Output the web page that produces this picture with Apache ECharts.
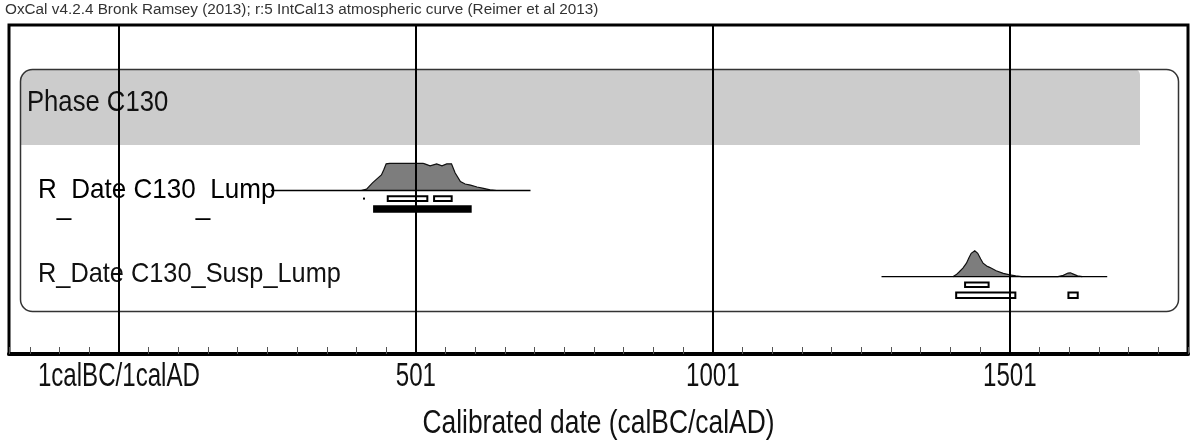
<!DOCTYPE html>
<html><head><meta charset="utf-8">
<script src="https://cdn.jsdelivr.net/npm/echarts@6/dist/echarts.min.js"></script>
<style>html,body{margin:0;padding:0;background:#fff}#c{width:1190px;height:445px}</style>
</head><body><div id="c"></div>
<script>
// x values: years after the 1calBC/1calAD boundary (axis label = value + 1)
const majorTicks = [0, 500, 1000, 1500];
const tickLabels = ['1calBC/1calAD', '501', '1001', '1501'];

// R_Date C130_Lump : relative probability
const lumpYears = [408, 417, 427, 434, 442, 446, 450, 456, 512, 515, 524, 535, 544, 552, 560, 566, 575, 583, 592, 603, 614, 625, 636];
const lumpProb  = [0, 0.05, 0.28, 0.42, 0.57, 0.76, 0.98, 1, 1, 0.98, 0.91, 0.98, 0.91, 0.98, 0.98, 0.65, 0.33, 0.24, 0.2, 0.13, 0.08, 0.02, 0];
const lumpSpan  = [256, 693];
const lump68    = [[411, 413], [451, 521], [529, 562]];
const lump95    = [[428, 594]];

// R_Date C130_Susp_Lump : relative probability
const suspYears = [1404, 1410, 1415, 1421, 1427, 1431, 1435, 1441, 1446, 1451, 1455, 1461, 1466, 1477, 1489, 1500, 1510, 1520, 1581, 1590, 1598, 1602, 1607, 1614, 1622];
const suspProb  = [0, 0.08, 0.19, 0.33, 0.52, 0.72, 0.9, 1, 0.9, 0.68, 0.52, 0.41, 0.36, 0.23, 0.13, 0.07, 0.03, 0, 0, 0.05, 0.14, 0.15, 0.1, 0.03, 0];
const suspSpan  = [1284, 1664];
const susp68    = [[1423, 1466]];
const susp95    = [[1408, 1511], [1597, 1616]];

const titleText = 'OxCal v4.2.4 Bronk Ramsey (2013); r:5 IntCal13 atmospheric curve (Reimer et al 2013)';
const phaseName = 'Phase C130';
const dateNames = ['R_Date C130_Lump', 'R_Date C130_Susp_Lump'];
const axisTitle = 'Calibrated date (calBC/calAD)';

const FONT = '"Liberation Sans", Arial, sans-serif';
const XMIN = -185, XMAX = 1800;

const rows = [
  {years: lumpYears, prob: lumpProb, span: lumpSpan, r68: lump68, r95: lump95, base: 165.5, h: 27.2, fill95: true},
  {years: suspYears, prob: suspProb, span: suspSpan, r68: susp68, r95: susp95, base: 251.7, h: 26, fill95: false}
];

function boxes(api, list, r, top, bottom, filled, children) {
  list.forEach(function (rg) {
    const p = api.coord([rg[0], r.base + top]);
    const q = api.coord([rg[1], r.base + bottom]);
    const w = q[0] - p[0];
    if (w < 3) {
      const cy = (p[1] + q[1]) / 2;
      children.push({type: 'rect', shape: {x: p[0], y: cy - 1, width: 2, height: 2}, style: {fill: '#000'}});
      return;
    }
    children.push({
      type: 'rect',
      shape: {x: p[0] + 1, y: p[1], width: w - 2, height: q[1] - p[1]},
      style: {fill: filled ? '#000' : '#fff', stroke: '#000', lineWidth: 2}
    });
  });
}

function renderItem(params, api) {
  const r = rows[params.dataIndex];
  const children = [];
  const pts = r.years.map(function (y, i) { return api.coord([y, r.base - r.prob[i] * r.h]); });
  const b0 = api.coord([r.years[0], r.base]);
  const b1 = api.coord([r.years[r.years.length - 1], r.base]);
  children.push({type: 'polygon', shape: {points: [b0].concat(pts, [b1])}, style: {fill: '#7d7d7d'}});
  children.push({type: 'polyline', shape: {points: pts}, style: {stroke: '#111', lineWidth: 1.2, fill: null}});
  const s0 = api.coord([r.span[0], r.base]);
  const s1 = api.coord([r.span[1], r.base]);
  children.push({type: 'line', shape: {x1: s0[0], y1: s0[1], x2: s1[0], y2: s1[1]}, style: {stroke: '#000', lineWidth: 1.3}});
  boxes(api, r.r68, r, 5.8, 10.4, false, children);
  boxes(api, r.r95, r, 15.8, 21.2, r.fill95, children);
  return {type: 'group', children: children};
}

const chart = echarts.init(document.getElementById('c'), null, {renderer: 'canvas'});
chart.setOption({
  animation: false,
  backgroundColor: '#fff',
  title: {
    text: titleText, left: 5, top: 2, padding: 0,
    textStyle: {fontFamily: FONT, fontSize: 15.3, fontWeight: 'normal', color: '#333'}
  },
  grid: {left: 9, right: 2, top: 25, bottom: 91, show: true, borderColor: '#000', borderWidth: 3},
  xAxis: {
    type: 'value', min: XMIN, max: XMAX, minInterval: 50, maxInterval: 50, splitNumber: 40,
    axisLine: {show: true, onZero: false, lineStyle: {color: '#000', width: 4}},
    axisTick: {show: true, inside: true, length: 7, lineStyle: {color: '#555', width: 1}},
    splitLine: {show: false},
    axisLabel: {show: false}
  },
  yAxis: {type: 'value', min: 0, max: 329, inverse: true, show: false},
  series: [
    {
      type: 'custom', z: 3, clip: false,
      renderItem: renderItem,
      encode: {x: 0, y: 1},
      data: rows.map(function (r) { return [r.span[0], r.base]; }),
      silent: true
    },
    {
      type: 'line', z: 5, data: [], silent: true,
      markLine: {
        silent: true, symbol: ['none', 'none'], label: {show: false},
        lineStyle: {color: '#000', width: 2, type: 'solid'},
        emphasis: {disabled: true},
        data: majorTicks.map(function (v) { return {xAxis: v}; })
      }
    }
  ]
});

// condensed labels (the reference uses a narrow face): drawn as text scaled horizontally,
// placed through the x axis scale
const toPx = function (v) { return chart.convertToPixel({xAxisIndex: 0}, v); };
const graphics = [
  {type: 'rect', id: 'band', z: 0, shape: {x: 20, y: 69, width: 1120, height: 76, r: [12, 6, 0, 0]}, style: {fill: '#cccccc'}},
  {type: 'rect', id: 'phasebox', z: 1, shape: {x: 20.5, y: 69.5, width: 1158, height: 242, r: 12}, style: {fill: 'none', stroke: '#333', lineWidth: 1.5}},
  {type: 'text', id: 'phase', z: 1, x: 27, y: 102.5, scaleX: 0.855,
    style: {text: phaseName, font: '30px ' + FONT, fill: '#111', verticalAlign: 'middle'}},
  {type: 'text', id: 'date0', z: 1, x: 38, y: 190, scaleX: 0.93, style: {
    text: dateNames[0].split('_').map(function (s) { return '{a|' + s + '}'; }).join('{u|_}'),
    verticalAlign: 'middle',
    rich: {
      a: {fontFamily: FONT, fontSize: 28, lineHeight: 60, color: '#111'},
      u: {fontFamily: FONT, fontSize: 28, lineHeight: 28, color: '#111', verticalAlign: 'bottom'}
    }
  }},
  {type: 'text', id: 'date1', z: 1, x: 38, y: 274, scaleX: 0.905,
    style: {text: dateNames[1], font: '28px ' + FONT, fill: '#111', verticalAlign: 'middle'}},
  {type: 'text', id: 'axisname', z: 1, x: (toPx(XMIN) + toPx(XMAX)) / 2, y: 424, scaleX: 0.8,
    style: {text: axisTitle, font: '33px ' + FONT, fill: '#111', align: 'center', verticalAlign: 'middle'}}
];
majorTicks.forEach(function (v, i) {
  graphics.push({type: 'text', id: 'tick' + i, z: 1, x: toPx(v), y: 377, scaleX: 0.73,
    style: {text: tickLabels[i], font: '33px ' + FONT, fill: '#111', align: 'center', verticalAlign: 'middle'}});
});
chart.setOption({graphic: graphics});
</script></body></html>
